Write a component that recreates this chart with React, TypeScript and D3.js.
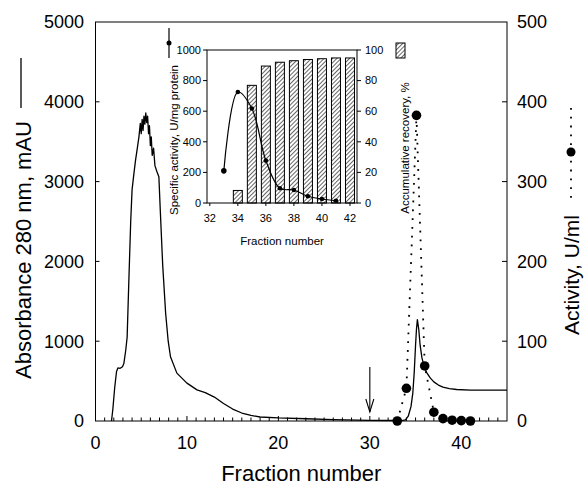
import React from "react";
import * as d3 from "d3";

// Main chart: absorbance trace (fraction, mAU)
const absFrac = [1.75, 1.9, 2.1, 2.3, 2.45, 2.7, 2.95, 3.1, 3.3, 3.46, 3.65, 3.85, 4.0, 4.2, 4.38, 4.55, 4.75, 4.9, 5.0, 5.1, 5.2, 5.3, 5.4, 5.5, 5.6, 5.7, 5.8, 5.9, 6.0, 6.1, 6.2, 6.35, 6.5, 6.7, 6.93, 7.1, 7.35, 7.67, 7.95, 8.2, 8.9, 10.0, 11.1, 12.0, 13.0, 14.0, 15.0, 16.0, 17.0, 18.0, 20.0, 23.0, 26.0, 30.0, 33.5, 33.9, 34.2, 34.5, 34.7, 34.85, 35.0, 35.1, 35.2, 35.35, 35.5, 35.7, 35.9, 36.2, 36.6, 37.0, 37.5, 38.0, 38.7, 39.5, 41.0, 43.0, 45.0];
const absVal = [0, 150, 420, 620, 665, 660, 680, 720, 880, 1050, 1770, 2500, 2900, 3100, 3270, 3400, 3560, 3730, 3600, 3780, 3640, 3820, 3720, 3860, 3740, 3820, 3600, 3700, 3450, 3560, 3330, 3420, 3200, 3130, 3060, 2600, 1950, 1350, 1000, 805, 600, 475, 390, 355, 300, 220, 150, 100, 70, 50, 38, 28, 18, 8, 6, 15, 60, 180, 350, 600, 950, 1150, 1270, 1150, 950, 790, 700, 610, 540, 490, 450, 425, 405, 395, 388, 386, 386];

// Activity, U/ml
const actFrac = [33, 34, 35.1, 36, 37, 38, 39, 40, 41];
const actVal = [0, 41, 383, 69, 11, 3, 1, 0.5, 0];

// Inset: specific activity and accumulative recovery
const specFrac = [33, 34, 35, 36, 37, 38, 39, 40, 41];
const specVal = [210, 725, 618, 277, 96, 85, 44, 26, 15];
const recFrac = [34, 35, 36, 37, 38, 39, 40, 41, 42];
const recVal = [8.2, 76.9, 89.5, 92, 93, 93.8, 94.3, 94.8, 94.8];

const xTicksMain = [0, 10, 20, 30, 40];
const yTicksLeft = [0, 1000, 2000, 3000, 4000, 5000];
const yTicksRight = [0, 100, 200, 300, 400, 500];
const insetXTicks = [32, 34, 36, 38, 40, 42];
const insetYLeftTicks = [0, 200, 400, 600, 800, 1000];
const insetYRightTicks = [0, 20, 40, 60, 80, 100];

const FONT = "'Liberation Sans', Arial, Helvetica, sans-serif";

export default function App() {
  const W = 584, H = 485;
  const L = 95.5, R = 507, T = 22, B = 421;
  const x = d3.scaleLinear().domain([0, 45]).range([L, R]);
  const yL = d3.scaleLinear().domain([0, 5000]).range([B, T]);
  const yR = d3.scaleLinear().domain([0, 500]).range([B, T]);

  const iL = 207, iR = 357, iT = 50, iB = 203;
  const ix = d3.scaleLinear().domain([31.8, 42.5]).range([iL, iR]);
  const iyL = d3.scaleLinear().domain([0, 1000]).range([iB, iT]);
  const iyR = d3.scaleLinear().domain([0, 100]).range([iB, iT]);

  const absLine = d3.line<number>().x((_, i) => x(absFrac[i])).y((d) => yL(d))(absVal) || "";
  const actLine = d3.line<number>().x((_, i) => x(actFrac[i])).y((d) => yR(d))(actVal) || "";
  const specLine = d3.line<number>().curve(d3.curveCatmullRom.alpha(0.5)).x((_, i) => ix(specFrac[i])).y((d) => iyL(d))(specVal) || "";

  const minor = d3.range(1, 45);
  const barW = 9;

  return (
    <svg width={W} height={H} style={{ position: "absolute", left: 0, top: 0, background: "#fff" }} fontFamily={FONT}>
      <defs>
        <pattern id="hatch" patternUnits="userSpaceOnUse" width="3" height="3" patternTransform="rotate(45)">
          <rect width="3" height="3" fill="#fff" />
          <line x1="0" y1="0" x2="0" y2="3" stroke="#000" strokeWidth="1.2" />
        </pattern>
      </defs>
      <rect x={0} y={0} width={W} height={H} fill="#fff" />

      {/* main frame */}
      <rect x={L} y={T} width={R - L} height={B - T} fill="none" stroke="#000" strokeWidth={1} />

      {/* bottom ticks (inward) */}
      {minor.map((t) => (
        <line key={"mt" + t} x1={x(t)} x2={x(t)} y1={B} y2={B - (t % 10 === 0 ? 5 : 3.5)} stroke="#000" strokeWidth={1} />
      ))}
      {xTicksMain.map((t) => (
        <text key={"xl" + t} x={x(t)} y={449} textAnchor="middle" fontSize={18}>{t}</text>
      ))}
      <text x={(L + R) / 2} y={481} textAnchor="middle" fontSize={22}>Fraction number</text>

      {/* left axis */}
      {yTicksLeft.map((t) => (
        <g key={"yl" + t}>
          {t > 0 && t < 5000 && <line x1={L} x2={L + 4} y1={yL(t)} y2={yL(t)} stroke="#000" />}
          <text x={84} y={yL(t)} dy="0.35em" textAnchor="end" fontSize={18}>{t}</text>
        </g>
      ))}
      {/* right axis */}
      {yTicksRight.map((t) => (
        <g key={"yr" + t}>
          {t > 0 && t < 500 && <line x1={R} x2={R - 5} y1={yR(t)} y2={yR(t)} stroke="#000" />}
          <text x={517} y={yR(t)} dy="0.35em" textAnchor="start" fontSize={18}>{t}</text>
        </g>
      ))}

      {/* axis titles */}
      <text transform="translate(23,250) rotate(-90)" dy="0.35em" textAnchor="middle" fontSize={22}>Absorbance 280 nm, mAU</text>
      <line x1={21} x2={21} y1={58} y2={108} stroke="#000" strokeWidth={1.3} />
      <text transform="translate(572,275) rotate(-90)" dy="0.35em" textAnchor="middle" fontSize={21}>Activity, U/ml</text>
      <line x1={571} x2={571} y1={108} y2={198} stroke="#000" strokeWidth={1.8} strokeDasharray="1.8 7" />
      <circle cx={571} cy={152} r={4.5} fill="#000" />

      {/* absorbance curve */}
      <path d={absLine} fill="none" stroke="#000" strokeWidth={1.3} strokeLinejoin="round" />
      {/* activity dotted */}
      <path d={actLine} fill="none" stroke="#000" strokeWidth={1.8} strokeDasharray="1.8 7" />
      {actVal.map((v, i) => (
        <circle key={"ad" + i} cx={x(actFrac[i])} cy={yR(v)} r={4.8} fill="#000" />
      ))}

      {/* arrow at fraction 30 */}
      <line x1={x(30)} x2={x(30)} y1={367} y2={412} stroke="#000" strokeWidth={1.1} />
      <polyline points={`${x(30) - 4},${399} ${x(30)},${412} ${x(30) + 4},${399}`} fill="none" stroke="#000" strokeWidth={1.1} />

      {/* ===== inset ===== */}
      {recVal.map((v, i) => (
        <rect key={"bar" + i} x={ix(recFrac[i]) - barW / 2} y={iyR(v)} width={barW} height={iB - iyR(v)} fill="url(#hatch)" stroke="#000" strokeWidth={1} />
      ))}
      <rect x={iL} y={iT} width={iR - iL} height={iB - iT} fill="none" stroke="#000" strokeWidth={1} />
      <path d={specLine} fill="none" stroke="#000" strokeWidth={1.2} />
      {specVal.map((v, i) => (
        <circle key={"sp" + i} cx={ix(specFrac[i])} cy={iyL(v)} r={i === 0 ? 2.8 : 2.3} fill="#000" />
      ))}
      {insetXTicks.map((t) => (
        <g key={"ixt" + t}>
          <line x1={ix(t)} x2={ix(t)} y1={iB} y2={iB + 3} stroke="#000" />
          <text x={ix(t)} y={222} textAnchor="middle" fontSize={11}>{t}</text>
        </g>
      ))}
      {insetYLeftTicks.map((t) => (
        <g key={"iyl" + t}>
          <line x1={iL - 4} x2={iL} y1={iyL(t)} y2={iyL(t)} stroke="#000" />
          <text x={201} y={iyL(t)} dy="0.35em" textAnchor="end" fontSize={11}>{t}</text>
        </g>
      ))}
      {insetYRightTicks.map((t) => (
        <g key={"iyr" + t}>
          <line x1={iR} x2={iR + 4} y1={iyR(t)} y2={iyR(t)} stroke="#000" />
          <text x={365} y={iyR(t)} dy="0.35em" textAnchor="start" fontSize={11}>{t}</text>
        </g>
      ))}
      <text x={(iL + iR) / 2} y={245} textAnchor="middle" fontSize={11.5}>Fraction number</text>
      <text transform="translate(174,140) rotate(-90)" dy="0.35em" textAnchor="middle" fontSize={11.5}>Specific activity, U/mg protein</text>
      <line x1={169} x2={169} y1={28} y2={58} stroke="#000" strokeWidth={1.2} />
      <circle cx={169} cy={43} r={2.5} fill="#000" />
      <text transform="translate(405,148) rotate(-90)" dy="0.35em" textAnchor="middle" fontSize={11.5}>Accumulative recovery, %</text>
      <rect x={396} y={43} width={9} height={15} fill="url(#hatch)" stroke="#000" strokeWidth={1} />
    </svg>
  );
}
